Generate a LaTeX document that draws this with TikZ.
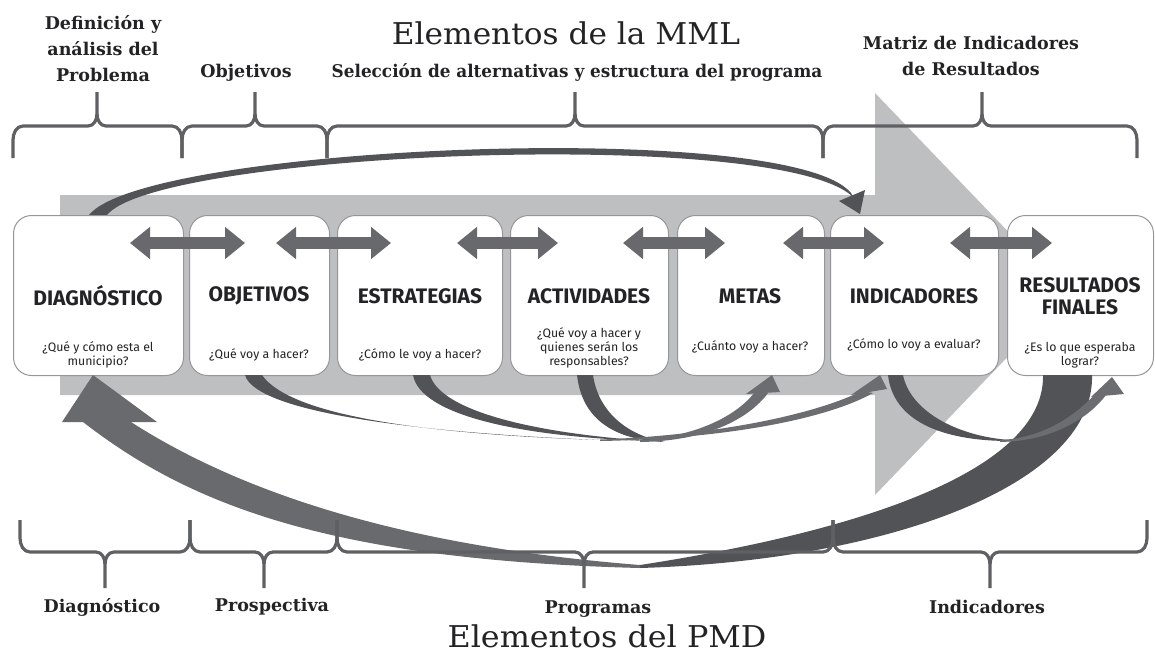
\documentclass[tikz,border=0pt]{standalone}
\usepackage{fontspec}
\newfontfamily\boxfont{Fira Sans}
\newfontfamily\serifdv{DejaVu Serif}
\usetikzlibrary{arrows.meta}
\definecolor{bandgray}{RGB}{190,191,193}
\definecolor{darkcurve}{RGB}{82,83,87}
\definecolor{midarrow}{RGB}{108,109,112}
\definecolor{leftdark}{RGB}{105,106,109}
\definecolor{bracegray}{RGB}{95,96,100}
\definecolor{dblgray}{RGB}{104,105,108}
\definecolor{boxline}{RGB}{150,150,153}
\definecolor{txt}{RGB}{35,35,37}
\tikzset{
  box/.style={draw=boxline, line width=1, fill=white, rounded corners=18, minimum height=160, inner sep=0, anchor=north west},
  btitle/.style={font=\boxfont\bfseries\fontsize{21}{22}\selectfont, text=txt, align=center, inner sep=0},
  bsub/.style={font=\boxfont\fontsize{12.3}{14}\selectfont, text=txt, align=center, inner sep=0},
  serifb/.style={font=\serifdv\bfseries\fontsize{17.5}{26}\selectfont, text=txt, align=center, inner sep=0},
  bigtitle/.style={font=\serifdv\fontsize{30}{36}\selectfont, text=txt, inner sep=0},
  brace/.style={draw=bracegray, line width=3.2, line join=round},
  dbl/.style={draw=dblgray, line width=12, {Triangle[length=20pt,width=31pt]}-{Triangle[length=20pt,width=31pt]}}
}
\newcommand\topbrace[3]{%
  \draw[brace] (#1,158) -- (#1,140) to[out=90,in=180] (#1+10,126) -- (#3-9,126) to[out=0,in=-90] (#3,114) -- (#3,92);
  \draw[brace] (#2,158) -- (#2,140) to[out=90,in=0] (#2-10,126) -- (#3+9,126) to[out=180,in=-90] (#3,114);}
\newcommand\botbrace[3]{%
  \draw[brace] (#1,520) -- (#1,538) to[out=-90,in=180] (#1+10,552) -- (#3-9,552) to[out=0,in=90] (#3,564) -- (#3,588);
  \draw[brace] (#2,520) -- (#2,538) to[out=-90,in=0] (#2-10,552) -- (#3+9,552) to[out=180,in=90] (#3,564);}
\begin{document}
\begin{tikzpicture}[x=1pt,y=-1pt]
\useasboundingbox (0,0) rectangle (1155,657);
% big light arrow
\fill[bandgray] (60,195) -- (875,195) -- (875,93) -- (1068,294) -- (875,495) -- (875,395) -- (60,395) -- cycle;
% top curve
\fill[darkcurve] (89,215) .. controls (145,145) and (790,118) .. (851,193) -- (853,197) .. controls (780,126) and (158,152) .. (107,215) -- cycle;
\fill[darkcurve] (839,201) -- (865,190) -- (860,214) -- cycle;
% boxes
\node[box, minimum width=170] (diag) at (13,215) {};
\node[box, minimum width=140] (obj) at (189,215) {};
\node[box, minimum width=165] (est) at (337,215) {};
\node[box, minimum width=158] (act) at (510,215) {};
\node[box, minimum width=147] (met) at (677,215) {};
\node[box, minimum width=168] (ind) at (830,215) {};
\node[box, minimum width=146] (res) at (1007,215) {};
% double arrows
\coordinate (a1) at (130,243); \coordinate (b1) at (245,243);
\coordinate (a2) at (276,243); \coordinate (b2) at (391,243);
\coordinate (a3) at (457,243); \coordinate (b3) at (558,243);
\coordinate (a4) at (623,243); \coordinate (b4) at (725,243);
\coordinate (a5) at (783,243); \coordinate (b5) at (884,243);
\coordinate (a6) at (950,243); \coordinate (b6) at (1052,243);
\draw[dbl] (a1) -- (b1);
\draw[dbl] (a2) -- (b2);
\draw[dbl] (a3) -- (b3);
\draw[dbl] (a4) -- (b4);
\draw[dbl] (a5) -- (b5);
\draw[dbl] (a6) -- (b6);
% box texts
\node[btitle] (t1) at (98,296) {DIAGNÓSTICO};
\node[btitle] (t2) at (259,296) {OBJETIVOS};
\node[btitle] (t3) at (420,296) {ESTRATEGIAS};
\node[btitle] (t4) at (589,296) {ACTIVIDADES};
\node[btitle] (t5) at (750,296) {METAS};
\node[btitle] (t6) at (914,296) {INDICADORES};
\node[btitle] (t7) at (1080,296) {RESULTADOS\\FINALES};
\node[bsub] (s1) at (98,355) {¿Qué y cómo esta el\\municipio?};
\node[bsub] (s2) at (259,355) {¿Qué voy a hacer?};
\node[bsub] (s3) at (420,355) {¿Cómo le voy a hacer?};
\node[bsub] (s4) at (589,348) {¿Qué voy a hacer y\\quienes serán los\\responsables?};
\node[bsub] (s5) at (750,347) {¿Cuánto voy a hacer?};
\node[bsub] (s6) at (914,345) {¿Cómo lo voy a evaluar?};
\node[bsub] (s7) at (1080,355) {¿Es lo que esperaba\\lograr?};
% big dark return arrow
\fill[darkcurve] (640,568) .. controls (900,560) and (1095,480) .. (1092,375) -- (1043,375) .. controls (1045,465) and (880,528) .. (640,565) -- cycle;
\fill[leftdark] (83,422) .. controls (190,505) and (330,560) .. (640,568) -- (640,565) .. controls (400,546) and (240,492) .. (131,422) -- cycle;
\fill[leftdark] (62,422) -- (157,422) -- (93,375) -- cycle;
% curves below boxes
\fill[darkcurve] (245,375) .. controls (255,410) and (400,432) .. (600,440) .. controls (420,434) and (290,415) .. (262,375) -- cycle;
\fill[darkcurve] (413,375) .. controls (420,415) and (520,437) .. (650,441) .. controls (530,433) and (440,410) .. (430,375) -- cycle;
\fill[darkcurve] (577,375) .. controls (582,420) and (615,440) .. (665,442) .. controls (625,435) and (598,410) .. (593,375) -- cycle;
\fill[midarrow] (640,442) .. controls (705,441) and (748,420) .. (768,393) -- (755,392) .. controls (738,414) and (700,436) .. (640,440) -- cycle;
\fill[midarrow] (746,394) -- (780,392) -- (772,375) -- cycle;
\fill[midarrow] (600,441) .. controls (720,439) and (825,420) .. (873,393) -- (862,391) .. controls (815,414) and (720,435) .. (600,439.5) -- cycle;
\fill[midarrow] (851,395) -- (887,389) -- (880,375) -- cycle;
\fill[darkcurve] (888,375) .. controls (893,420) and (940,441) .. (1010,441) -- (1010,440) .. controls (955,436) and (910,410) .. (903,375) -- cycle;
\fill[midarrow] (1000,442) .. controls (1050,441) and (1087,420) .. (1106,395) -- (1096,393) .. controls (1077,414) and (1045,438) .. (1000,440) -- cycle;
\fill[midarrow] (1091,397) -- (1124,394) -- (1112,377) -- cycle;
% braces
\topbrace{13}{182}{97}
\topbrace{182}{327}{255}
\topbrace{327}{823}{575}
\topbrace{823}{1137}{982}
\botbrace{20}{190}{105}
\botbrace{190}{337}{264}
\botbrace{337}{833}{584}
\botbrace{833}{1147}{990}
% top labels
\node[bigtitle] (mml) at (566,33) {\scalebox{1.04}[1]{Elementos de la MML}};
\node[serifb] (l1) at (103,49) {Definición y\\análisis del\\Problema};
\node[serifb] (l2) at (246,73) {Objetivos};
\node[serifb] (l3) at (577,72) {\scalebox{0.963}[1]{Selección de alternativas y estructura del programa}};
\node[serifb] (l4) at (971,56) {Matriz de Indicadores\\de Resultados};
% bottom labels
\node[serifb] (m1) at (102,607) {Diagnóstico};
\node[serifb] (m2) at (272,607) {Prospectiva};
\node[serifb] (m3) at (598,609) {Programas};
\node[serifb] (m4) at (987,607) {Indicadores};
\node[bigtitle] (pmd) at (607,636) {\scalebox{1.06}[1]{Elementos del PMD}};
\end{tikzpicture}
\end{document}
